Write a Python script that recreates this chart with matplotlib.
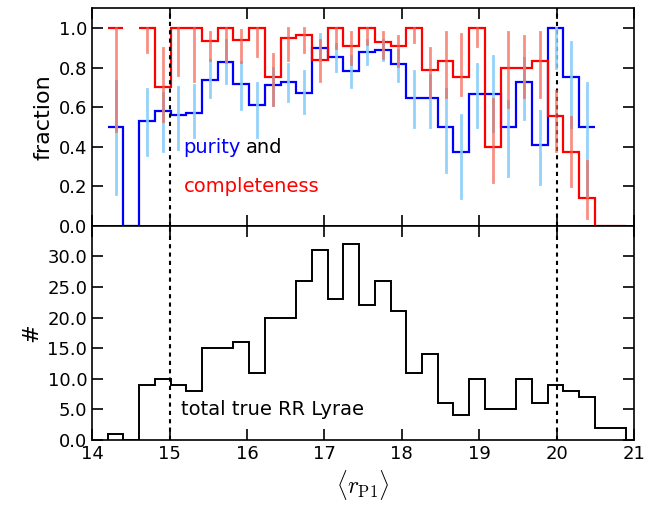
import numpy as np
import matplotlib
matplotlib.use("Agg")
import matplotlib.pyplot as plt

plt.rcParams['mathtext.fontset'] = 'cm'

edges = np.linspace(14.2, 20.9, 34)
counts = [1, 0, 9, 10, 9, 8, 15, 15, 16, 11, 20, 20, 26, 31, 23, 32, 22, 26, 21,
          11, 14, 6, 4, 10, 5, 5, 10, 6, 9, 8, 7, 2, 2]
purity = [0.5, 0, 0.53, 0.58, 0.56, 0.57, 0.735, 0.83, 0.715, 0.61, 0.71, 0.727,
          0.67, 0.9, 0.855, 0.78, 0.88, 0.89, 0.82, 0.645, 0.645, 0.5, 0.375,
          0.667, 0.667, 0.5, 0.727, 0.41, 1.0, 0.75, 0.5]
pur_lo = [0.16, None, 0.36, 0.38, 0.39, 0.45, 0.65, 0.72, 0.59, 0.45, 0.61, 0.63,
          0.57, 0.84, 0.78, 0.70, 0.82, 0.84, 0.73, 0.50, 0.50, 0.27, 0.14, 0.50,
          0.48, 0.25, 0.54, 0.21, 0.80, 0.50, 0.15]
pur_hi = [0.73, None, 0.69, 0.67, 0.70, 0.71, 0.84, 0.94, 0.83, 0.72, 0.80, 0.82,
          0.78, 0.97, 0.92, 0.86, 0.94, 0.94, 0.89, 0.78, 0.76, 0.69, 0.56, 0.82,
          0.86, 0.63, 0.85, 0.58, 1.0, 0.93, 0.72]
compl = [1.0, None, 1.0, 0.70, 1.0, 1.0, 0.935, 1.0, 0.94, 1.0, 0.75, 0.95, 0.966,
         0.84, 1.0, 0.91, 1.0, 0.927, 0.907, 1.0, 0.79, 0.835, 0.75, 1.0, 0.397,
         0.80, 0.80, 0.835, 0.556, 0.373, 0.14, 0.0, 0.0]
com_lo = [0.48, None, 0.88, 0.53, 0.76, 0.73, 0.84, 0.83, 0.83, 0.86, 0.61, 0.84,
          0.88, 0.73, 0.90, 0.82, 0.92, 0.85, 0.81, 0.93, 0.65, 0.65, 0.66, 0.91,
          0.22, 0.60, 0.65, 0.65, 0.38, 0.20, 0.04, None, None]
com_hi = [1.0, None, 1.0, 0.90, 1.0, 1.0, 0.98, 1.0, 0.99, 1.0, 0.87, 1.0, 1.0,
          0.94, 1.0, 0.98, 1.0, 0.98, 0.96, 1.0, 0.90, 0.98, 0.97, 1.0, 0.64, 0.98,
          0.96, 0.98, 0.68, 0.55, 0.33, None, None]

centers = 0.5 * (edges[:-1] + edges[1:])

fig = plt.figure(figsize=(6.49, 5.12), dpi=100)
ax1 = fig.add_axes([0.142, 0.559, 0.835, 0.425])
ax2 = fig.add_axes([0.142, 0.141, 0.835, 0.418])

for ax in (ax1, ax2):
    ax.tick_params(direction='in', top=True, right=True, labelsize=13, length=8, width=1.2)
    ax.axvline(15, color='k', ls=(0, (2, 2)), lw=1.5)
    ax.axvline(20, color='k', ls=(0, (2, 2)), lw=1.5)
    ax.set_xlim(14, 21)
    for s in ax.spines.values():
        s.set_linewidth(1.2)

for i, c in enumerate(centers):
    if i < len(pur_lo) and pur_lo[i] is not None:
        ax1.plot([c, c], [pur_lo[i], pur_hi[i]], color='#87cefa', lw=2, alpha=0.9)
    if com_lo[i] is not None:
        ax1.plot([c, c], [com_lo[i], com_hi[i]], color='#f4604f', lw=2, alpha=0.7)

ax1.stairs(purity, edges[:len(purity) + 1], color='b', lw=1.6, baseline=None)
ax1.stairs(compl[:1], edges[:2], color='r', lw=1.6, baseline=None)
ax1.stairs(compl[2:], edges[2:], color='r', lw=1.6, baseline=None)

ax1.set_ylim(0, 1.1)
ax1.set_yticks(np.arange(0, 1.01, 0.2))
ax1.yaxis.set_major_formatter(matplotlib.ticker.FormatStrFormatter('%.1f'))
ax1.set_xticklabels([])
ax1.set_ylabel('fraction', fontsize=16)
ax1.text(15.18, 0.37, 'purity', color='b', fontsize=14)
ax1.text(15.98, 0.37, 'and', color='k', fontsize=14)
ax1.text(15.18, 0.17, 'completeness', color='r', fontsize=14)

ax2.stairs(counts, edges, color='k', lw=1.4, baseline=0)
ax2.set_ylim(0, 35)
ax2.set_yticks(np.arange(0, 31, 5))
ax2.yaxis.set_major_formatter(matplotlib.ticker.FormatStrFormatter('%.1f'))
ax2.set_ylabel('#', fontsize=16)
ax2.set_xlabel(r'$\langle r_{\rm P1} \rangle$', fontsize=17)
ax2.text(15.15, 4.0, 'total true RR Lyrae', fontsize=14)

fig.savefig('out.png', dpi=100)
